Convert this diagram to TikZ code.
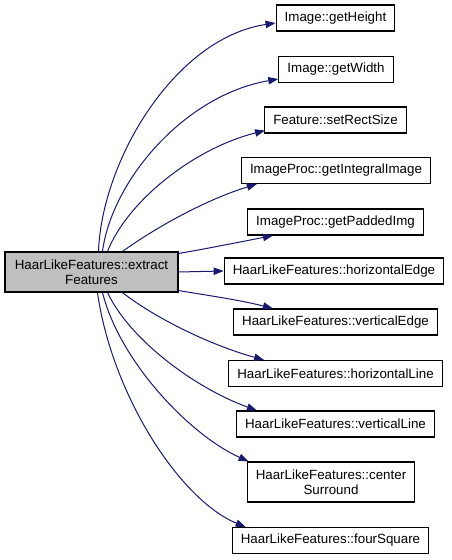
\documentclass[tikz,border=0pt]{standalone}
\usepackage{xcolor}
\usepackage{fontspec}
\setmainfont{Liberation Sans}
\usepackage{tikz}
\usetikzlibrary{
    arrows.meta,
    calc
}
\definecolor{edgeblue}{RGB}{25,25,112}

\begin{document}
\begin{tikzpicture}[
x=0.75pt, y=-0.75pt,
font=\fontsize{10}{11.3}\selectfont,
box/.style={
draw,
line width=0.8pt,
inner xsep=6.5pt,
minimum height=19.5pt,
align=center
},
call/.style={
draw=edgeblue,
line width=0.75pt,
-{Triangle[length=7.5pt,width=5.5pt,fill=edgeblue]}
}
]

\useasboundingbox (0,0) rectangle (451,560);

\node[box, fill=black!25,
minimum width=129.75pt, minimum height=30pt] (extract)
at (91.5,272) {HaarLikeFeatures::extract\\Features};

\node[box] (getheight) at (335.5,18) {Image::getHeight};
\node[box] (getwidth) at (336,69.5) {Image::getWidth};
\node[box] (setrect) at (335.5,120) {Feature::setRectSize};
\node[box] (integral) at (336,170.5) {ImageProc::getIntegralImage};
\node[box] (padded) at (335.5,222) {ImageProc::getPaddedImg};
\node[box] (hedge) at (334,271) {HaarLikeFeatures::horizontalEdge};
\node[box] (vedge) at (335.5,322) {HaarLikeFeatures::verticalEdge};
\node[box] (hline) at (335.5,373.5) {HaarLikeFeatures::horizontalLine};
\node[box] (vline) at (335.5,424) {HaarLikeFeatures::verticalLine};
\node[box, minimum height=30pt] (csurround) at (331,482)
{HaarLikeFeatures::center\\Surround};
\node[box] (foursq) at (330.5,540.5) {HaarLikeFeatures::fourSquare};

\draw[call] ($(extract.north west)+(94,0)$)
.. controls (102,160) and (175,38) .. ($(getheight.west)+(0,5)$);
\draw[call] ($(extract.north west)+(98,0)$)
.. controls (112,180) and (185,95) .. ($(getwidth.south west)+(0,-4)$);
\draw[call] ($(extract.north west)+(103,0)$)
.. controls (128,200) and (195,148) .. ($(setrect.south west)+(1,-3)$);
\draw[call] ($(extract.north west)+(118,0)$)
.. controls (155,228) and (205,200) .. ($(integral.south west)+(16,0)$);
\draw[call] ($(extract.north east)+(0,2)$)
.. controls (205,249) and (240,242) .. ($(padded.south west)+(26,0)$);
\draw[call] (extract.east) -- (hedge.west);
\draw[call] ($(extract.south east)+(0,-2)$)
.. controls (205,295) and (240,300) .. ($(vedge.north west)+(40,0)$);
\draw[call] ($(extract.south west)+(118,0)$)
.. controls (155,318) and (210,345) .. ($(hline.north west)+(36,0)$);
\draw[call] ($(extract.south west)+(103,0)$)
.. controls (130,340) and (195,388) .. ($(vline.north west)+(21,0)$);
\draw[call] ($(extract.south west)+(98,0)$)
.. controls (120,362) and (190,435) .. ($(csurround.north west)+(2,0)$);
\draw[call] ($(extract.south west)+(93,0)$)
.. controls (112,395) and (180,500) .. ($(foursq.north west)+(14,0)$);

\end{tikzpicture}
\end{document}
